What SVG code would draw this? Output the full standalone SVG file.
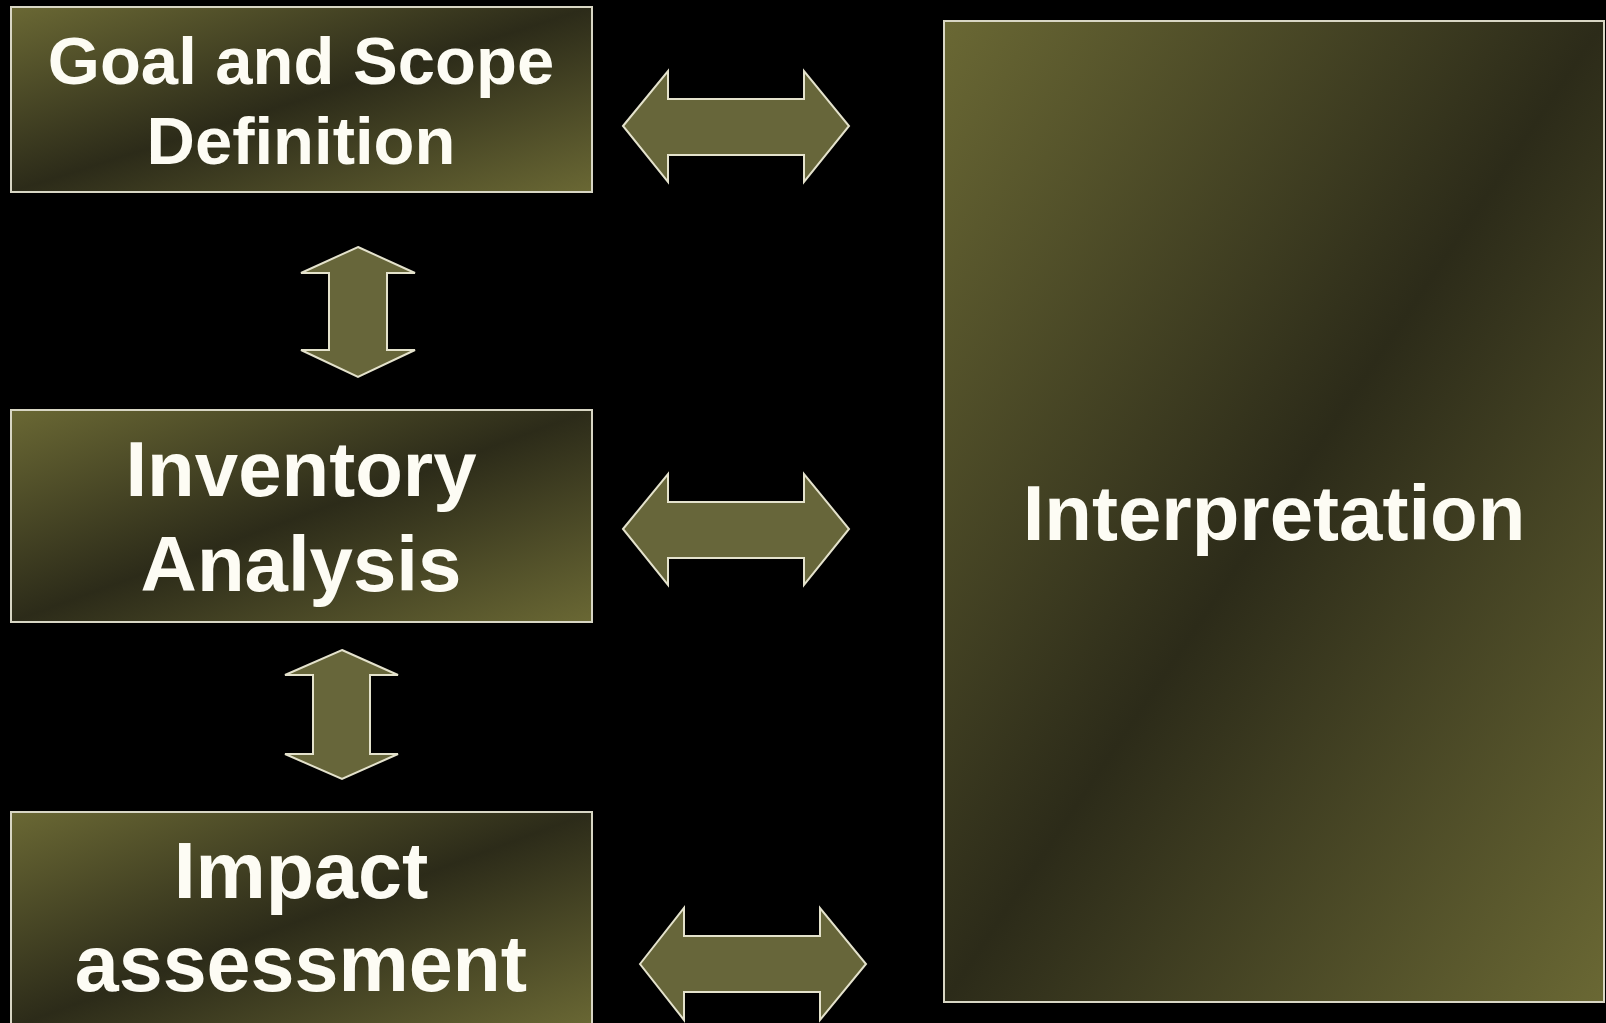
<svg xmlns="http://www.w3.org/2000/svg" width="1606" height="1023" viewBox="0 0 1606 1023">
<style>
.box{stroke:#d8d6c4;stroke-width:2}
.arrow{fill:#67663a;stroke:#e4e2cc;stroke-width:2;stroke-linejoin:miter}
.lbl{font-family:"Liberation Sans",Arial,sans-serif;font-weight:bold;fill:#fdfcf4;text-anchor:middle}
</style>
<defs>
<linearGradient id="g" x1="0" y1="0" x2="1" y2="1">
<stop offset="0" stop-color="#6a6834"/>
<stop offset="0.5" stop-color="#2c2b19"/>
<stop offset="1" stop-color="#6a6834"/>
</linearGradient>
</defs>
<rect width="1606" height="1023" fill="#000"/>
<g id="goal">
<rect class="box" x="11" y="7" width="581" height="185" fill="url(#g)"/>
<text class="lbl" x="301" y="84" font-size="67">Goal and Scope</text>
<text class="lbl" x="301" y="164" font-size="67">Definition</text>
</g>
<g id="inventory">
<rect class="box" x="11" y="410" width="581" height="212" fill="url(#g)"/>
<text class="lbl" x="301" y="496" font-size="78">Inventory</text>
<text class="lbl" x="301" y="591" font-size="78">Analysis</text>
</g>
<g id="impact">
<rect class="box" x="11" y="812" width="581" height="216" fill="url(#g)"/>
<text class="lbl" x="301" y="898" font-size="79">Impact</text>
<text class="lbl" x="301" y="991" font-size="79">assessment</text>
</g>
<g id="interpretation">
<rect class="box" x="944" y="21" width="660" height="981" fill="url(#g)"/>
<text class="lbl" x="1274" y="540" font-size="78">Interpretation</text>
</g>
<g id="connectors">
<polygon class="arrow" points="623,126 668,71 668,99 804,99 804,71 849,126 804,182 804,155 668,155 668,182"/>
<polygon class="arrow" points="623,529 668,474 668,502 804,502 804,474 849,529 804,585 804,558 668,558 668,585"/>
<polygon class="arrow" points="640,964 684,908 684,936 820,936 820,908 866,964 820,1020 820,992 684,992 684,1020"/>
<polygon class="arrow" points="358,247 415,273 387,273 387,350 415,350 358,377 301,350 329,350 329,273 301,273"/>
<polygon class="arrow" points="342,650 398,675 370,675 370,754 398,754 342,779 285,754 313,754 313,675 285,675"/>
</g>
</svg>
